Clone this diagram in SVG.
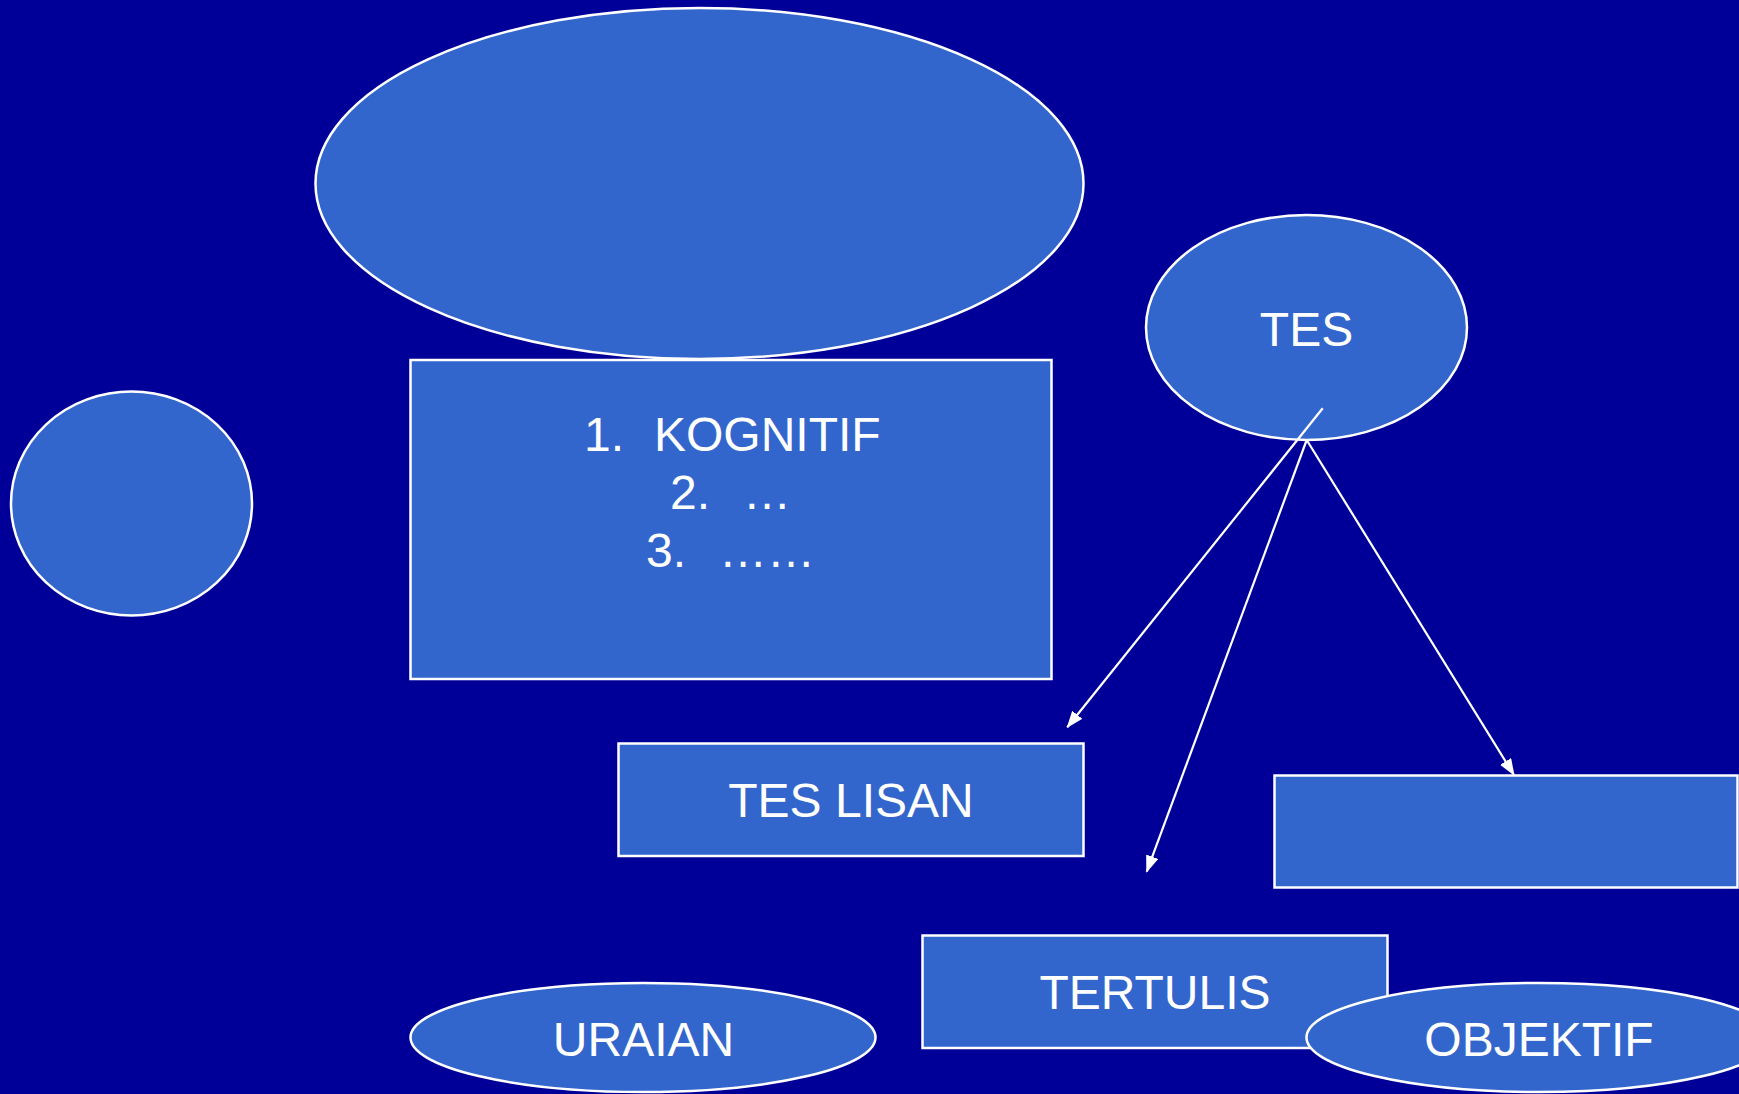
<svg xmlns="http://www.w3.org/2000/svg" width="1739" height="1094" viewBox="0 0 1739 1094">
<defs>
<style>
.n{fill:#3366CC;stroke:#FFFFFF;stroke-width:2.5}
.t{fill:#FFFFFF;font-family:"Liberation Sans",Arial,sans-serif;font-size:48px}
.c{text-anchor:middle}
.e{stroke:#FFFFFF;stroke-width:2.2;fill:none}
</style>
<marker id="ah" viewBox="0 0 17 13" refX="16" refY="6.5" markerWidth="17" markerHeight="13" markerUnits="userSpaceOnUse" orient="auto">
<path d="M0,0 L17,6.5 L0,13 Z" fill="#FFFFFF"/>
</marker>
</defs>
<rect x="0" y="0" width="1739" height="1094" fill="#000099"/>
<g id="kognitif-box">
<rect class="n" x="410.5" y="360" width="641" height="319"/>
<text class="t" x="584" y="451">1.</text>
<text class="t" x="654" y="451">KOGNITIF</text>
<text class="t" x="670" y="509">2.</text>
<text class="t" x="743" y="509">…</text>
<text class="t" x="646" y="567">3.</text>
<text class="t" x="719" y="567">……</text>
</g>
<g id="top-ellipse">
<ellipse class="n" cx="699.5" cy="183.5" rx="384" ry="175.5"/>
</g>
<g id="left-circle">
<ellipse class="n" cx="131.5" cy="503.5" rx="120.5" ry="112"/>
</g>
<g id="tes">
<ellipse class="n" cx="1306.5" cy="327.5" rx="160.5" ry="112.5"/>
<text class="t c" x="1306.5" y="346">TES</text>
</g>
<g id="tes-lisan">
<rect class="n" x="618.5" y="743.5" width="465" height="112.5"/>
<text class="t c" x="851" y="817">TES LISAN</text>
</g>
<g id="empty-box">
<rect class="n" x="1274.5" y="775.5" width="463" height="112"/>
</g>
<g id="tertulis">
<rect class="n" x="922.5" y="935.5" width="465" height="112.5"/>
<text class="t c" x="1155" y="1009">TERTULIS</text>
</g>
<g id="uraian">
<ellipse class="n" cx="643" cy="1037.5" rx="232.5" ry="54.5"/>
<text class="t c" x="643.5" y="1056">URAIAN</text>
</g>
<g id="objektif">
<ellipse class="n" cx="1539" cy="1037.5" rx="232.5" ry="54.5"/>
<text class="t c" x="1539" y="1056">OBJEKTIF</text>
</g>
<g id="connectors">
<line class="e" x1="1322.7" y1="408.3" x2="1067.3" y2="727.3" marker-end="url(#ah)"/>
<line class="e" x1="1306.7" y1="440" x2="1146.7" y2="871.7" marker-end="url(#ah)"/>
<line class="e" x1="1306.7" y1="440" x2="1514" y2="775" marker-end="url(#ah)"/>
</g>
</svg>
